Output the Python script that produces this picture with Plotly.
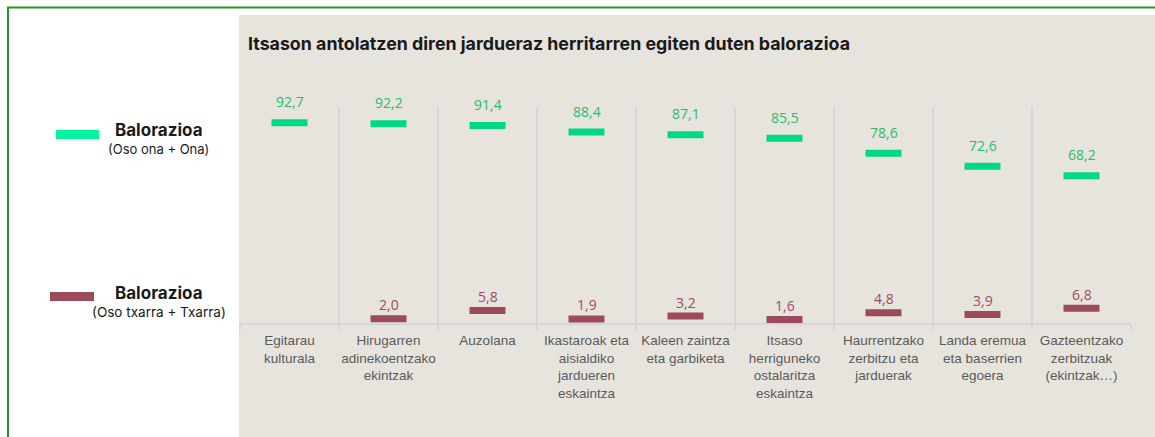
import plotly.graph_objects as go

categories = [
    "Egitarau<br>kulturala",
    "Hirugarren<br>adinekoentzako<br>ekintzak",
    "Auzolana",
    "Ikastaroak eta<br>aisialdiko<br>jardueren<br>eskaintza",
    "Kaleen zaintza<br>eta garbiketa",
    "Itsaso<br>herriguneko<br>ostalaritza<br>eskaintza",
    "Haurrentzako<br>zerbitzu eta<br>jarduerak",
    "Landa eremua<br>eta baserrien<br>egoera",
    "Gazteentzako<br>zerbitzuak<br>(ekintzak…)",
]
good = [92.7, 92.2, 91.4, 88.4, 87.1, 85.5, 78.6, 72.6, 68.2]
bad = [None, 2.0, 5.8, 1.9, 3.2, 1.6, 4.8, 3.9, 6.8]

GREEN = "#00d886"
GREEN_TXT = "#27bd68"
RED = "#9c4a5c"
RED_TXT = "#a04a5c"
BEIGE = "#e7e4de"

W, H = 1155, 437
L, R, T, B = 240, 24, 107, 114
PW, PH = W - L - R, H - T - B


def px(x):
    return (x - L) / PW


def py(y):
    return (H - B - y) / PH


def fmt(v):
    return f"{v:.1f}".replace(".", ",")


fig = go.Figure()
# line-ew marker length is 1.4 * size -> ~36px dash
fig.add_trace(go.Scatter(
    x=categories, y=good, mode="markers", cliponaxis=False,
    marker=dict(symbol="line-ew", size=25.7, line=dict(width=7, color=GREEN)),
    hoverinfo="skip", showlegend=False,
))
fig.add_trace(go.Scatter(
    x=categories, y=bad, mode="markers", cliponaxis=False,
    marker=dict(symbol="line-ew", size=25.7, line=dict(width=7, color=RED)),
    hoverinfo="skip", showlegend=False,
))

# value labels
for c, v in zip(categories, good):
    fig.add_annotation(x=c, y=v, text=fmt(v), showarrow=False, yshift=21,
                       font=dict(family="Open Sans", size=14, color=GREEN_TXT))
for c, v in zip(categories, bad):
    if v is None:
        continue
    fig.add_annotation(x=c, y=v, text=fmt(v), showarrow=False, yshift=14,
                       font=dict(family="Open Sans", size=14, color=RED_TXT))

# background panel and frame
fig.add_shape(type="rect", xref="paper", yref="paper", layer="below",
              x0=px(239), x1=px(1170), y0=py(450), y1=py(15),
              fillcolor=BEIGE, line=dict(width=0))
fig.add_shape(type="rect", xref="paper", yref="paper", layer="above",
              x0=px(8), x1=px(1175), y0=py(460), y1=py(7.5),
              fillcolor="rgba(0,0,0,0)", line=dict(width=2, color="#1f9a2a"))

# title
fig.add_annotation(xref="paper", yref="paper", x=px(246), y=py(44),
                   xanchor="left", yanchor="middle", showarrow=False,
                   text="<b>Itsason antolatzen diren jardueraz herritarren egiten duten balorazioa</b>",
                   font=dict(family="Inter", size=17.8, color="#1a1a1a"))

# legend
fig.add_shape(type="rect", xref="paper", yref="paper",
              x0=px(56), x1=px(99), y0=py(139), y1=py(130),
              fillcolor="#00f59c", line=dict(width=0))
fig.add_shape(type="rect", xref="paper", yref="paper",
              x0=px(50), x1=px(94), y0=py(301), y1=py(292),
              fillcolor=RED, line=dict(width=0))
legend_text = [
    (159, 130, "<b>Balorazioa</b>", 17),
    (158, 149, "(Oso ona + Ona)", 13),
    (159, 293, "<b>Balorazioa</b>", 17),
    (159, 312, "(Oso txarra + Txarra)", 13.5),
]
for x, y, t, s in legend_text:
    fig.add_annotation(xref="paper", yref="paper", x=px(x), y=py(y),
                       xanchor="center", yanchor="middle", showarrow=False,
                       text=t, font=dict(family="Inter", size=s, color="#1a1a1a"))

fig.update_xaxes(
    type="category", range=[-0.5, len(categories) - 0.5],
    tickson="boundaries", showgrid=True, gridcolor="#d6d6d6",
    gridwidth=1.5, showline=True, linecolor="#d6d6d6", linewidth=2,
    ticks="outside", ticklen=5, tickcolor="#d6d6d6", tickwidth=1.5,
    ticklabelstandoff=4,
    tickfont=dict(family="Liberation Sans", size=13.5, color="#5a5a5a"),
    tickangle=0, fixedrange=True,
)
fig.update_yaxes(range=[0, 100], visible=False, fixedrange=True)
fig.update_layout(
    width=W, height=H,
    margin=dict(l=L, r=R, t=T, b=B, autoexpand=False),
    paper_bgcolor="white", plot_bgcolor="rgba(0,0,0,0)",
    showlegend=False,
)
fig.write_html("out.html", config={"displayModeBar": False},
               post_script="document.body.style.margin='0';")
